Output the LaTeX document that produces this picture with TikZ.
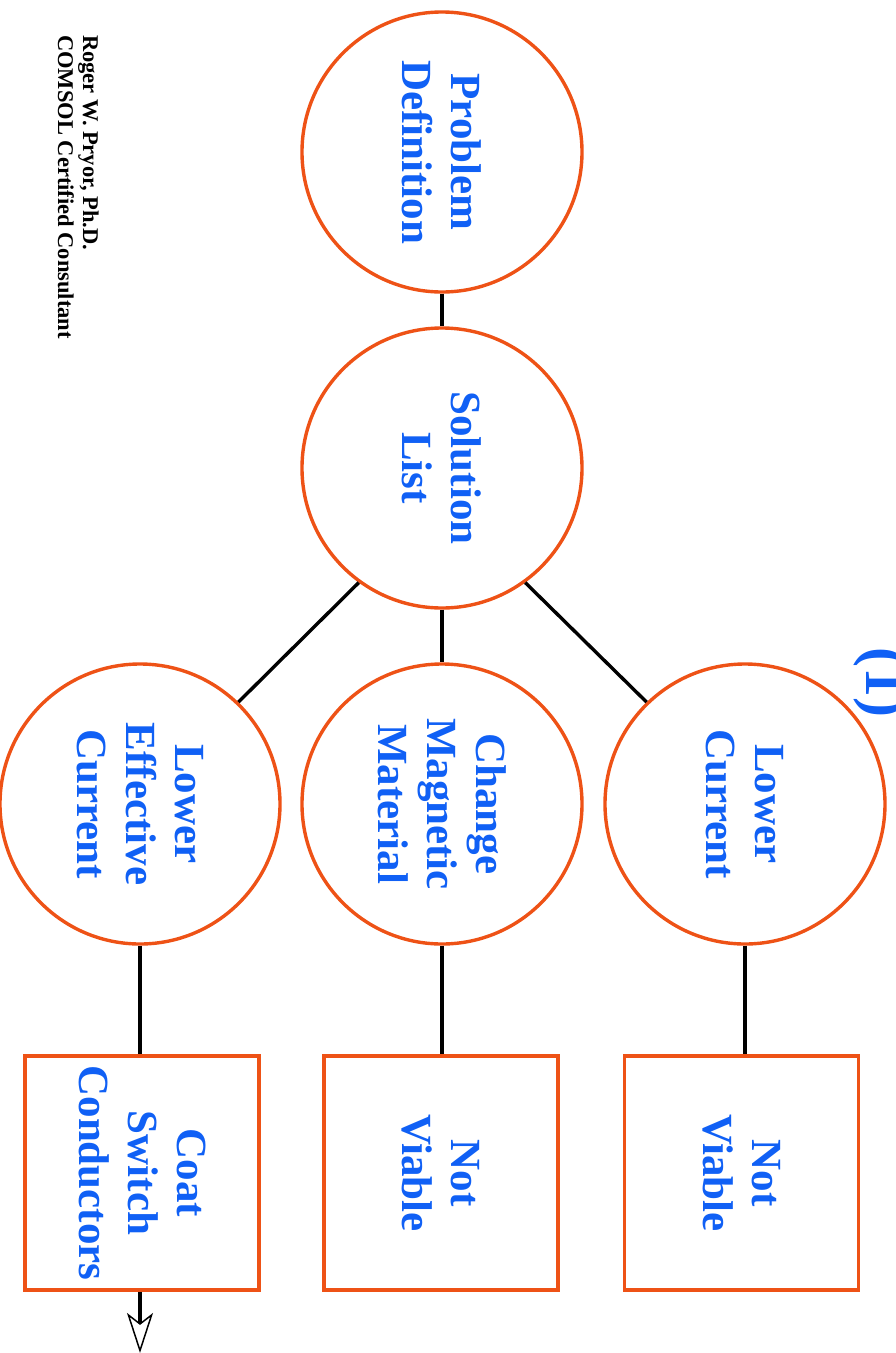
\documentclass[tikz,border=0pt]{standalone}
\usepackage{fontspec}
\setmainfont{Liberation Serif}
\usepackage{pdfrender}
\usetikzlibrary{arrows.meta}
\definecolor{orng}{RGB}{238,82,22}
\definecolor{blu}{RGB}{16,96,245}
\newcommand{\heavytext}[1]{\textpdfrender{TextRenderingMode=FillStroke,LineWidth=0.7,FillColor=blu,StrokeColor=blu}{#1}}
\begin{document}
\begin{tikzpicture}[x=1pt,y=-1pt,
  circ/.style={circle,draw=orng,line width=3.4pt,minimum size=280pt,inner sep=0pt,rotate=-90,
    text=blu,align=center,font=\fontsize{43}{49}\selectfont\bfseries},
  rbox/.style={rectangle,draw=orng,line width=3.6pt,minimum size=234pt,inner sep=0pt,rotate=-90,
    text=blu,align=center,font=\fontsize{43}{49}\selectfont\bfseries},
  conn/.style={draw=black,line width=3.4pt}]
\useasboundingbox (0,0) rectangle (895,1353);

\node[circ] (pd)  at (442,152) {\heavytext{Problem}\\\heavytext{Definition}};
\node[circ] (sol) at (442,468) {\heavytext{Solution}\\\heavytext{List}};
\node[circ] (lc)  at (745,804) {\heavytext{Lower}\\\heavytext{Current}};
\node[circ] (cmm) at (442,804) {\heavytext{Change}\\\heavytext{Magnetic}\\\heavytext{Material}};
\node[circ] (lec) at (140,804) {\heavytext{Lower}\\\heavytext{Effective}\\\heavytext{Current}};

\node[rbox] (nv1)  at (741.5,1173) {\heavytext{Not}\\\heavytext{Viable}};
\node[rbox] (nv2)  at (441,1173) {\heavytext{Not}\\\heavytext{Viable}};
\node[rbox] (coat) at (142,1173) {\heavytext{Coat}\\\heavytext{Switch}\\\heavytext{Conductors}};

\node[rotate=-90,anchor=base,inner sep=0pt,text=blu,font=\fontsize{60}{60}\selectfont\bfseries] (lbl) at (866,682)
  {\textpdfrender{TextRenderingMode=FillStroke,LineWidth=1.2,FillColor=blu,StrokeColor=orng}{(1)}};

\node[rotate=-90,anchor=north west,align=left,inner sep=0pt,font=\fontsize{22.5}{25}\selectfont\bfseries] (auth) at (99,35)
  {Roger W. Pryor, Ph.D.\\COMSOL Certified Consultant};

\coordinate (arrend) at (140,1353);

\draw[conn] (pd.east) -- (sol.west);
\draw[conn] (sol.east) -- (cmm.west);
\draw[conn] (sol.36.4) -- (lc.224.4);
\draw[conn] (sol.-36.4) -- (lec.136.2);
\draw[conn] (lc.east) -- (lc.east |- nv1.west);
\draw[conn] (cmm.east) -- (cmm.east |- nv2.west);
\draw[conn] (lec.east) -- (lec.east |- coat.west);
\draw[conn,-{Stealth[open,length=40pt,width=26pt,inset=10pt,line width=1.5pt,fill=white]}] (lec.east |- coat.east) -- (arrend);
\end{tikzpicture}
\end{document}
